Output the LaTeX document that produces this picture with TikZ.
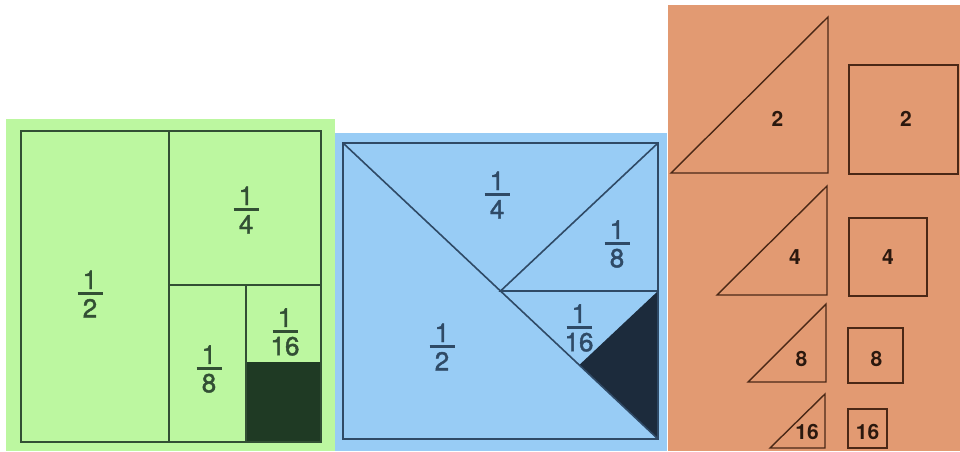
\documentclass[tikz,border=0pt]{standalone}
\usepackage{fontspec}
\setmainfont{TeX Gyre Heros}
\newfontfamily\medfont{TeX Gyre Heros}[FakeBold=1.6]
\definecolor{greenbg}{HTML}{BCF7A0}
\definecolor{gline}{HTML}{324F34}
\definecolor{gdark}{HTML}{1F3A24}
\definecolor{bluebg}{HTML}{98CCF5}
\definecolor{bline}{HTML}{2F4A66}
\definecolor{bdark}{HTML}{1C2B3C}
\definecolor{orbg}{HTML}{E29A72}
\definecolor{oline}{HTML}{4A2816}
\definecolor{otext}{HTML}{2A180E}
\newcommand{\fracbox}[2]{\vbox{\offinterlineskip\halign{\hfil##\hfil\cr#1\cr\noalign{\vskip3pt}\rule{25pt}{3pt}\cr\noalign{\vskip4pt}#2\cr}}}
\tikzset{
  fraclbl/.style={inner sep=0pt, font=\medfont\fontsize{26}{30}\selectfont},
  glbl/.style={fraclbl, text=gline},
  blbl/.style={fraclbl, text=bline},
  olbl/.style={inner sep=0pt, text=otext, font=\fontsize{21}{24}\selectfont\bfseries},
  gstroke/.style={draw=gline, line width=2.1pt},
  bstroke/.style={draw=bline, line width=1.6pt, line join=miter},
  ostroke/.style={draw=oline, line width=1.4pt, line join=miter}
}
\begin{document}
\begin{tikzpicture}[x=1pt,y=-1pt]
\useasboundingbox (0,0) rectangle (960,451);
% ---------- green panel ----------
\fill[greenbg] (6,119) rectangle (335,451);
\fill[gdark] (246,362) rectangle (321,442);
\draw[gstroke] (21,131) rectangle (321,442);
\draw[gstroke] (169,131) -- (169,442);
\draw[gstroke] (169,285) -- (321,285);
\draw[gstroke] (246,285) -- (246,442);
\node[glbl] (g2) at (90,294) {\fracbox{1}{2}};
\node[glbl] (g4) at (246,210) {\fracbox{1}{4}};
\node[glbl] (g8) at (209,369) {\fracbox{1}{8}};
\node[glbl] (g16) at (285,332) {\fracbox{1}{16}};
% ---------- blue panel ----------
\fill[bluebg] (335,133) rectangle (667,451);
\coordinate (btl) at (343,143);
\coordinate (btr) at (658,143);
\coordinate (bbr) at (658,439);
\coordinate (bbl) at (343,439);
\coordinate (bc) at (500.5,291);
\coordinate (bm) at (658,291);
\coordinate (bq) at (579.25,365);
\fill[bdark] (bm) -- (bbr) -- (bq) -- cycle;
\draw[bstroke] (btl) rectangle (bbr);
\draw[bstroke] (btl) -- (bbr);
\draw[bstroke] (btr) -- (bc) -- (bm);
\node[blbl] (b4) at (497,195) {\fracbox{1}{4}};
\node[blbl] (b8) at (617,244) {\fracbox{1}{8}};
\node[blbl] (b16) at (579,328) {\fracbox{1}{16}};
\node[blbl] (b2) at (442,347) {\fracbox{1}{2}};
% ---------- orange panel ----------
\fill[orbg] (668,5) rectangle (960,451);
\draw[ostroke] (671,173) -- (828,17) -- (828,173) -- cycle;
\draw[ostroke] (849,65) rectangle (958,174);
\draw[ostroke] (717,295) -- (827,186) -- (827,295) -- cycle;
\draw[ostroke] (849,218) rectangle (927,296);
\draw[ostroke] (748,382) -- (826,304) -- (826,382) -- cycle;
\draw[ostroke] (848,328) rectangle (903,383);
\draw[ostroke] (770,448) -- (825,394) -- (825,448) -- cycle;
\draw[ostroke] (848,409) rectangle (887,448);
\node[olbl] (ot2) at (777.5,118.5) {2};
\node[olbl] (os2) at (906,118.5) {2};
\node[olbl] (ot4) at (795,257) {4};
\node[olbl] (os4) at (888,257) {4};
\node[olbl] (ot8) at (801.5,358.5) {8};
\node[olbl] (os8) at (876.5,358.5) {8};
\node[olbl] (ot16) at (807,432) {16};
\node[olbl] (os16) at (867.5,432) {16};
\end{tikzpicture}
\end{document}
